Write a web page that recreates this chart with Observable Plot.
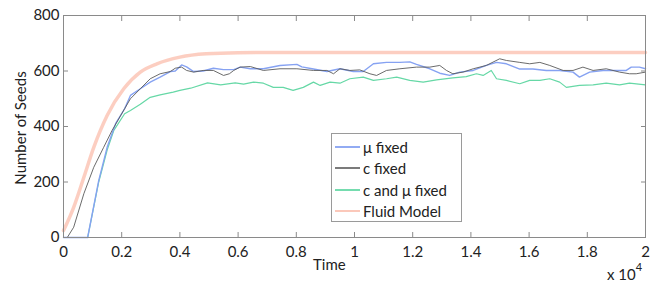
<!DOCTYPE html>
<html><head><meta charset="utf-8">
<script src="https://cdn.jsdelivr.net/npm/d3@7"></script>
<script src="https://cdn.jsdelivr.net/npm/@observablehq/plot@0.6"></script>
<style>
body{margin:0;background:#fff;}
#wrap{position:relative;width:652px;height:285px;font-family:Lato,sans-serif;color:#222;}
#wrap svg{position:absolute;left:0;top:0;}
.lbl{position:absolute;font-size:15px;white-space:nowrap;}
#legend{position:absolute;left:331px;top:133px;width:131px;height:89px;border:1px solid #9a9a9a;background:#fff;box-sizing:border-box;font-size:15px;}
#legend .row{position:absolute;left:3px;height:20px;display:flex;align-items:center;}
#legend .sw{width:25px;height:2px;margin-right:3px;}
</style></head><body><div id="wrap"></div>
<script>
const xTicks = [0,2000,4000,6000,8000,10000,12000,14000,16000,18000,20000];
const yTicks = [0,200,400,600,800];
const seriesNames = ["μ fixed","c fixed","c and  μ fixed","Fluid Model"];
const seriesColors = ["#86a2f2","#5a5a5a","#66d8a6","#fbc2b2"];

const fluidTime  = [0,350,700,1040,1500,2070,2640,3210,4000,4900,6000,8000,12000,20000];
const fluidSeeds = [25,109,217,325,440,536,596,626,650,662,666,667,667,667];

const muTime  = [0,830,1210,1500,1790,2100,2300,2640,2980,3320,3670,3840,4060,4230,4470,4800,5150,5500,5850,6070,6420,6870,7440,8020,8190,8590,9050,9500,9960,10300,10650,11100,11560,11900,12130,12590,12930,13270,13620,14080,14530,14880,15220,15680,16130,16590,17050,17510,17730,18080,18540,18990,19340,19510,19790,20000];
const muSeeds = [0,0,205,325,410,464,512,536,560,578,598,600,622,615,598,600,610,605,605,614,608,608,620,624,615,607,598,608,598,598,626,631,631,633,624,608,592,584,596,602,620,631,626,607,607,602,602,596,578,596,602,602,602,614,614,608];

const cTime  = [0,130,350,700,1040,1380,1670,2100,2300,2640,2980,3320,3670,3840,4060,4230,4470,4800,5150,5500,5700,5850,6070,6420,6870,7440,8020,8590,9050,9280,9500,9840,10180,10530,10760,11100,11560,12130,12590,12930,13160,13380,13730,14080,14530,14990,15220,15680,16020,16370,16710,17170,17510,17850,18200,18650,19110,19450,19680,20000];
const cSeeds = [0,0,37,158,253,325,386,464,500,536,572,590,598,610,614,602,596,602,602,584,590,602,614,616,602,608,608,602,602,590,608,602,604,590,584,602,608,614,614,620,602,590,596,608,620,644,638,631,626,631,620,602,602,614,602,608,596,590,590,596];

const cmTime  = [0,830,1210,1500,1730,2100,2300,2640,2980,3320,3770,4000,4370,4950,5400,5900,6190,6530,6870,7210,7550,7890,8240,8590,8820,9160,9500,9840,10300,10650,11100,11450,11900,12360,12820,13380,13840,14190,14420,14700,14880,15220,15680,16020,16370,16710,17050,17280,17730,18200,18650,19110,19450,20000];
const cmSeeds = [0,0,200,315,386,446,458,480,505,514,524,530,538,557,550,557,553,560,556,541,541,530,541,560,548,560,556,572,578,566,572,578,566,560,568,575,580,590,584,602,572,566,554,566,566,572,560,541,548,550,556,550,556,550];

const toRows = (name, ts, vs) => ts.map((t, i) => ({series: name, time: t, seeds: vs[i]}));
const fluid = toRows(seriesNames[3], fluidTime, fluidSeeds);
const mu = toRows(seriesNames[0], muTime, muSeeds);
const cf = toRows(seriesNames[1], cTime, cSeeds);
const cm = toRows(seriesNames[2], cmTime, cmSeeds);

const chart = Plot.plot({
  width: 652, height: 285,
  marginLeft: 63, marginRight: 7, marginTop: 15, marginBottom: 48,
  x: {domain: [0, 20000]},
  y: {domain: [0, 800]},
  style: {fontFamily: "Lato, sans-serif", fontSize: "15px", color: "#222", background: "#fff"},
  marks: [
    Plot.line(fluid, {x: "time", y: "seeds", stroke: seriesColors[3], strokeWidth: 3.5, strokeOpacity: 0.8, curve: "monotone-x"}),
    Plot.line(cm, {x: "time", y: "seeds", stroke: seriesColors[2], strokeWidth: 1.2}),
    Plot.line(mu, {x: "time", y: "seeds", stroke: seriesColors[0], strokeWidth: 1.4}),
    Plot.line(cf, {x: "time", y: "seeds", stroke: seriesColors[1], strokeWidth: 0.9}),
    Plot.frame({stroke: "#8a8a8a"}),
    Plot.axisX(xTicks, {anchor: "bottom", tickSize: -5, tickPadding: 14, tickFormat: d => d / 10000, label: null, stroke: "#8a8a8a"}),
    Plot.axisX(xTicks, {anchor: "top", tickSize: -5, text: null, label: null, stroke: "#8a8a8a"}),
    Plot.axisY(yTicks, {anchor: "left", tickSize: -5, tickPadding: 9, label: null, stroke: "#8a8a8a"}),
    Plot.axisY(yTicks, {anchor: "right", tickSize: -5, text: null, label: null, stroke: "#8a8a8a"})
  ]
});
const wrap = document.getElementById("wrap");
wrap.appendChild(chart);

function addLabel(html, css) {
  const d = document.createElement("div");
  d.className = "lbl";
  d.innerHTML = html;
  Object.assign(d.style, css);
  wrap.appendChild(d);
}
addLabel("Time", {left: "313px", top: "255px"});
addLabel("x 10<sup style='font-size:11px;position:relative;top:-3px'>4</sup>", {left: "607px", top: "263px"});
addLabel("Number of Seeds", {left: "20px", top: "128px", transform: "translate(-50%,-50%) rotate(-90deg)"});

const legend = document.createElement("div");
legend.id = "legend";
seriesNames.forEach((n, i) => {
  const r = document.createElement("div");
  r.className = "row";
  r.style.top = (3 + i * 21.3) + "px";
  r.innerHTML = `<div class="sw" style="background:${seriesColors[i]};opacity:${i === 1 ? 0.8 : 0.9}"></div><span>${n}</span>`;
  legend.appendChild(r);
});
wrap.appendChild(legend);
</script>
</body></html>
